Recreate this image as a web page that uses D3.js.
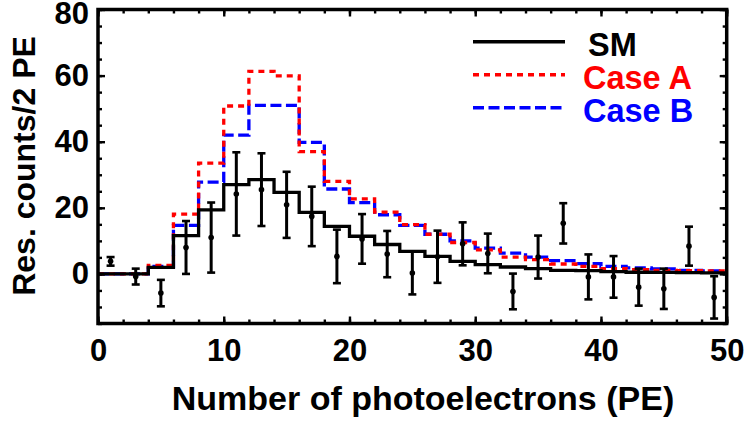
<!DOCTYPE html>
<html>
<head>
<meta charset="utf-8">
<script src="https://cdn.jsdelivr.net/npm/d3@7"></script>
<style>
  body { margin: 0; background: #fff; }
  svg { display: block; }
  text { font-family: 'Liberation Sans', Arial, sans-serif; font-weight: bold; }
</style>
</head>
<body>
<svg id="chart" width="746" height="423"></svg>
<script>
// histogram bins are 2 PE wide, left edges
const binEdges = [0, 2, 4, 6, 8, 10, 12, 14, 16, 18, 20, 22, 24, 26, 28, 30, 32, 34, 36, 38, 40, 42, 44, 46, 48]
const binCenters = [1, 3, 5, 7, 9, 11, 13, 15, 17, 19, 21, 23, 25, 27, 29, 31, 33, 35, 37, 39, 41, 43, 45, 47, 49]

const smCounts = [0, 0, 2, 11.6, 19.4, 27, 28.5, 24.7, 18.6, 14.4, 11.4, 8.9, 6.8, 5.3, 3.8, 2.8, 2.1, 1.6, 1.1, 1.0, 0.7, 0.5, 0.45, 0.4, 0.3]
const caseACounts = [0, 0, 2.6, 18.1, 33.5, 50.8, 61.3, 59.9, 37, 28, 22.7, 18.7, 14.9, 12, 9.5, 7.3, 5.1, 4.3, 3.0, 2.3, 1.6, 1.3, 1.1, 1.0, 0.9]
const caseBCounts = [0, 0, 2.3, 14.7, 27.8, 42, 51, 51, 39.8, 25.7, 21.6, 17.9, 14.7, 12, 10, 7.8, 6.3, 5.1, 4.0, 3.1, 2.3, 1.8, 1.5, 1.1, 0.9]

const dataValues = [3.8, -0.8, -5.8, 8, 11, 24.2, 25.5, 20.9, 17.4, 5.3, 10.6, 6, 0.3, 5.2, 9.1, 6.2, -5.3, 5.1, 15.3, -0.9, -0.9, -4, -4.5, 8.4, -7.1]
const dataErrors = [1.3, 2.4, 4, 8, 10.6, 12.6, 11, 10, 9, 8.1, 7.5, 7, 6.5, 7.9, 6.5, 6, 5.4, 6.5, 6.1, 6.8, 6.3, 5.6, 6.1, 5.9, 6.4]

const xTicks = [0, 10, 20, 30, 40, 50]
const yTicks = [0, 20, 40, 60, 80]

const legendItems = [
    {name: 'SM', color: '#000', dash: null, dx: 5},
    {name: 'Case A', color: '#ff0000', dash: '6,5', dx: 0},
    {name: 'Case B', color: '#0000ff', dash: '11,4.5', dx: 0},
]

const svg = d3.select('#chart')

const plot = {left: 98, right: 726.7, top: 9.5, bottom: 323.5}

const xScale = d3.scaleLinear().domain([0, 50]).range([plot.left, plot.right])
const yScale = d3.scaleLinear().domain([-15, 80]).range([plot.bottom, plot.top])

// step outline of a histogram
function stepPoints(counts) {
    const pts = binEdges.map((e, i) => [e, counts[i]])
    pts.push([50, counts[counts.length - 1]])
    return pts
}

const stepLine = d3.line()
    .x(d => xScale(d[0]))
    .y(d => yScale(d[1]))
    .curve(d3.curveStepAfter)

const hists = [
    {counts: caseBCounts, color: '#0000ff', dash: '11,4.5'},
    {counts: caseACounts, color: '#ff0000', dash: '6,5'},
    {counts: smCounts, color: '#000', dash: null},
]

svg.append('g').selectAll('path').data(hists).enter().append('path')
    .attr('d', d => stepLine(stepPoints(d.counts)))
    .attr('fill', 'none')
    .attr('stroke', d => d.color)
    .attr('stroke-width', 3.3)
    .attr('stroke-dasharray', d => d.dash)

// data points with error bars
const points = binCenters.map((c, i) => ({x: c, v: dataValues[i], e: dataErrors[i]}))
const pg = svg.append('g').selectAll('g').data(points).enter().append('g')

pg.append('line')
    .attr('x1', d => xScale(d.x)).attr('x2', d => xScale(d.x))
    .attr('y1', d => yScale(d.v - d.e)).attr('y2', d => yScale(d.v + d.e))
    .attr('stroke', '#000').attr('stroke-width', 3)

pg.selectAll('.cap').data(d => [[d.x, d.v - d.e], [d.x, d.v + d.e]]).enter().append('line')
    .attr('x1', d => xScale(d[0]) - 4).attr('x2', d => xScale(d[0]) + 4)
    .attr('y1', d => yScale(d[1])).attr('y2', d => yScale(d[1]))
    .attr('stroke', '#000').attr('stroke-width', 2.6)

pg.append('circle')
    .attr('cx', d => xScale(d.x)).attr('cy', d => yScale(d.v))
    .attr('r', 2.8).attr('fill', '#000')

// axes, ticks pointing inward on all four sides
function styleAxis(sel) {
    sel.select('.domain').remove()
    sel.selectAll('.tick line').attr('stroke', '#000').attr('stroke-width', 2.4)
    sel.selectAll('.tick text').attr('fill', '#000').style('font-size', '31px')
}

const xMinor = d3.range(0, 51, 2)
const yMinor = d3.range(-15, 81, 5)

svg.append('g').attr('transform', `translate(0,${plot.bottom})`)
    .call(d3.axisBottom(xScale).tickValues(xMinor).tickSize(-4).tickFormat(''))
    .call(styleAxis)
svg.append('g').attr('transform', `translate(0,${plot.bottom})`)
    .call(d3.axisBottom(xScale).tickValues(xTicks).tickSize(-7).tickPadding(15))
    .call(styleAxis)
svg.append('g').attr('transform', `translate(0,${plot.top})`)
    .call(d3.axisTop(xScale).tickValues(xMinor).tickSize(-4).tickFormat(''))
    .call(styleAxis)
svg.append('g').attr('transform', `translate(0,${plot.top})`)
    .call(d3.axisTop(xScale).tickValues(xTicks).tickSize(-7).tickFormat(''))
    .call(styleAxis)

svg.append('g').attr('transform', `translate(${plot.left},0)`)
    .call(d3.axisLeft(yScale).tickValues(yMinor).tickSize(-4).tickFormat(''))
    .call(styleAxis)
svg.append('g').attr('class', 'yaxis').attr('transform', `translate(${plot.left},0)`)
    .call(d3.axisLeft(yScale).tickValues(yTicks).tickSize(-7).tickPadding(9))
    .call(styleAxis)
svg.append('g').attr('transform', `translate(${plot.right},0)`)
    .call(d3.axisRight(yScale).tickValues(yMinor).tickSize(-4).tickFormat(''))
    .call(styleAxis)
svg.append('g').attr('transform', `translate(${plot.right},0)`)
    .call(d3.axisRight(yScale).tickValues(yTicks).tickSize(-7).tickFormat(''))
    .call(styleAxis)

// top label nudged down so it stays inside the page
svg.selectAll('.yaxis .tick text').filter(d => d === 80).attr('dy', '0.46em')

// frame
svg.append('rect')
    .attr('x', plot.left).attr('y', plot.top)
    .attr('width', plot.right - plot.left).attr('height', plot.bottom - plot.top)
    .attr('fill', 'none').attr('stroke', '#000').attr('stroke-width', 3.5)

// axis titles
svg.append('text')
    .attr('x', 423).attr('y', 410)
    .attr('text-anchor', 'middle')
    .style('font-size', '34px')
    .text('Number of photoelectrons (PE)')

svg.append('text')
    .attr('transform', 'translate(35,166) rotate(-90)')
    .attr('text-anchor', 'middle')
    .style('font-size', '32px')
    .text('Res. counts/2 PE')

// legend
const legend = svg.append('g').selectAll('g').data(legendItems).enter().append('g')
    .attr('transform', (d, i) => `translate(0,${41.7 + i * 33})`)

legend.append('line')
    .attr('x1', 473).attr('x2', 565).attr('y1', 0).attr('y2', 0)
    .attr('stroke', d => d.color).attr('stroke-width', 3.5)
    .attr('stroke-dasharray', d => d.dash)

legend.append('text')
    .attr('x', d => 583 + d.dx).attr('y', 13.8)
    .attr('fill', d => d.color)
    .style('font-size', '32.5px')
    .text(d => d.name)
</script>
</body>
</html>
